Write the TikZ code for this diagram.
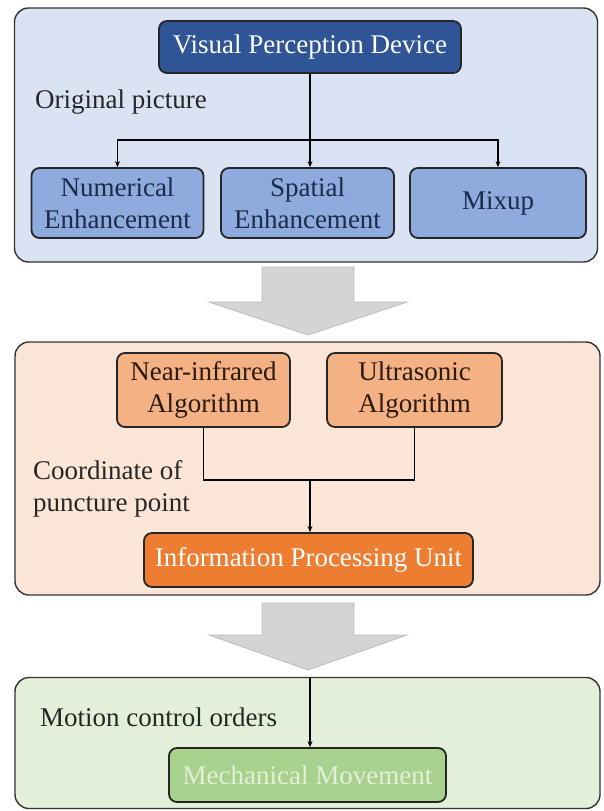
\documentclass[tikz,border=0pt]{standalone}
\usepackage{fontspec}
\setmainfont{Liberation Serif}
\usetikzlibrary{arrows.meta}
\definecolor{panelblue}{HTML}{DAE3F3}
\definecolor{darkblue}{HTML}{2F5597}
\definecolor{midblue}{HTML}{8FAADC}
\definecolor{navytext}{HTML}{1C2B4C}
\definecolor{panelorange}{HTML}{FBE5D6}
\definecolor{midorange}{HTML}{F4B183}
\definecolor{deeporange}{HTML}{ED7D31}
\definecolor{browntext}{HTML}{2A1A10}
\definecolor{panelgreen}{HTML}{E2F0D9}
\definecolor{midgreen}{HTML}{A9D18E}
\definecolor{arrowgray}{HTML}{D4D4D4}
\definecolor{arrowedge}{HTML}{BDBDBD}
\definecolor{edgegray}{HTML}{333333}
\begin{document}
\begin{tikzpicture}[x=1pt,y=-1pt,
  font=\fontsize{27}{32}\selectfont,
  panel/.style={draw=edgegray, line width=1.4pt, rounded corners=14pt, inner sep=0pt},
  box/.style={draw=black!85, line width=1.8pt, rounded corners=8pt, align=center, inner sep=0pt},
  label/.style={anchor=west, align=left, inner sep=0pt, text=black!85},
  conn/.style={line width=1.2pt, -{Stealth[length=6pt,width=5pt]}},
  plain/.style={line width=1.2pt},
  bigarrow/.style={fill=arrowgray, draw=arrowedge, line width=0.8pt}]
\useasboundingbox (0,0) rectangle (603,811);

% ---- acquisition stage ----
\node[panel, fill=panelblue, minimum width=583pt, minimum height=254pt] (p1) at (306,135) {};
\node[box, fill=darkblue, text=white, minimum width=302pt, minimum height=52pt] (vpd) at (310,47) {Visual Perception Device};
\node[box, fill=midblue, text=navytext, minimum width=172pt, minimum height=70pt] (num) at (117.5,203) {Numerical\\Enhancement};
\node[box, fill=midblue, text=navytext, minimum width=173pt, minimum height=70pt] (spa) at (307.5,203) {Spatial\\Enhancement};
\node[box, fill=midblue, text=navytext, minimum width=176pt, minimum height=70pt] (mix) at (498,203) {Mixup};
\node[label] (orig) at (35,102) {Original picture};
\coordinate (split) at (310,140);
\draw[plain] (vpd.south) -- (split);
\draw[conn] (split) -| (num.north);
\draw[conn] (split) -| (mix.north);
\draw[conn] (split) -- (split |- spa.north);

% ---- first transition arrow ----
\draw[bigarrow] (262,267) -- (354,267) -- (354,302) -- (407,302) -- (308,335) -- (209,302) -- (262,302) -- cycle;

% ---- processing stage ----
\node[panel, fill=panelorange, minimum width=585pt, minimum height=253pt] (p2) at (307.5,468.5) {};
\node[box, fill=midorange, text=browntext, minimum width=173pt, minimum height=74pt] (nir) at (203.5,390) {Near-infrared\\Algorithm};
\node[box, fill=midorange, text=browntext, minimum width=175pt, minimum height=74pt] (us) at (414.5,390) {Ultrasonic\\Algorithm};
\node[box, fill=deeporange, text=white, minimum width=329pt, minimum height=54pt] (ipu) at (308.5,560) {Information Processing Unit};
\node[label] (coord) at (33,489) {Coordinate of\\puncture point};
\coordinate (merge) at (310,480);
\draw[plain] (nir.south) |- (merge) -| (us.south);
\draw[conn] (merge) -- (merge |- ipu.north);

% ---- second transition arrow ----
\draw[bigarrow] (262,603) -- (354,603) -- (354,635) -- (407,635) -- (308,670) -- (209,635) -- (262,635) -- cycle;

% ---- actuation stage ----
\node[panel, fill=panelgreen, minimum width=585pt, minimum height=131pt] (p3) at (307.5,743) {};
\node[box, fill=midgreen, text=panelgreen, minimum width=277pt, minimum height=54pt] (mm) at (307.5,775) {Mechanical Movement};
\node[label] (motion) at (40,717) {Motion control orders};
\coordinate (entry) at (310,677.5);
\draw[conn] (entry) -- (entry |- mm.north);
\end{tikzpicture}
\end{document}
